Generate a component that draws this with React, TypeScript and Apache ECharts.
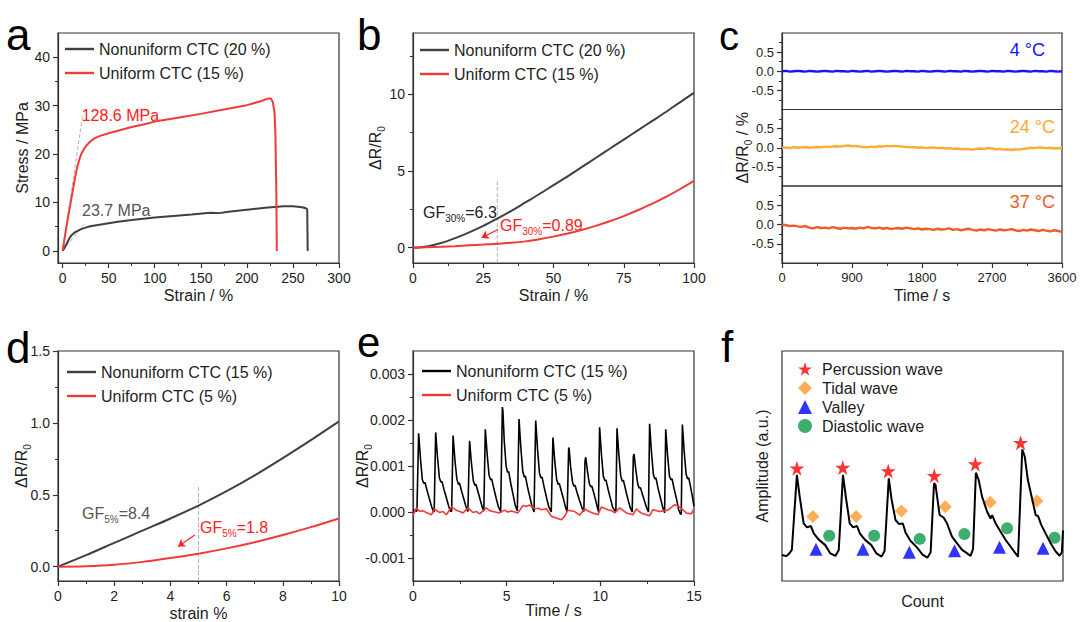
import React, { useEffect, useRef } from 'react';
import * as echarts from 'echarts';

const FONT = '"Liberation Sans", Arial, Helvetica, sans-serif';
const AXIS = '#333333';
const TXT = '#1e1e1e';
const GRAY = '#404040';
const RED = '#f03a3a';
const RED_TXT = '#ff2020';
const DASH = '#b4b4b4';

// ---------- (a) stress vs strain ----------
const aNonuniform: [number, number][] = [
  [0, 0], [2, 0.6], [4, 1.3], [6, 2.1], [8, 2.8], [10, 3.3], [13, 3.8], [16, 4.1], [20, 4.5], [25, 4.8],
  [30, 5.1], [40, 5.4], [50, 5.7], [60, 6.0], [75, 6.4], [90, 6.7], [100, 6.9], [120, 7.2], [140, 7.5],
  [160, 7.9], [170, 7.8], [180, 8.1], [200, 8.5], [220, 8.9], [240, 9.2], [250, 9.2], [260, 9.0],
  [264, 8.8], [265.5, 8.6], [266, 0],
];
const aUniform: [number, number][] = [
  [0, 0], [2, 2.4], [4, 4.8], [6, 7.1], [8, 9.2], [10, 11.3], [12, 13.5], [14, 15.6], [16, 17.4], [18, 18.8],
  [20, 19.9], [23, 21.0], [26, 21.8], [30, 22.6], [35, 23.3], [40, 23.7], [50, 24.3], [60, 24.8], [75, 25.6],
  [90, 26.2], [100, 26.7], [125, 27.5], [150, 28.3], [175, 29.2], [200, 30.1], [215, 30.9], [222, 31.4],
  [226, 31.5], [228, 30.8], [230, 28.8], [231, 24.0], [232, 12.0], [232.5, 0],
];
const aModulusUniform: [number, number][] = [[0, 0], [22, 28.3]];
const aModulusNonuniform: [number, number][] = [[0, 0], [24, 5.7]];

// ---------- (b) ΔR/R0 vs strain ----------
const bStrain = [0, 5, 10, 15, 20, 25, 30, 35, 40, 45, 50, 55, 60, 65, 70, 75, 80, 85, 90, 95, 100];
const bNonuniform = [0, 0.08, 0.3, 0.62, 1.0, 1.42, 1.9, 2.4, 2.95, 3.5, 4.08, 4.65, 5.25, 5.85, 6.45, 7.05, 7.65, 8.25, 8.85, 9.48, 10.1];
const bUniform = [0, 0.03, 0.06, 0.1, 0.15, 0.2, 0.26, 0.32, 0.41, 0.55, 0.72, 0.92, 1.15, 1.42, 1.72, 2.06, 2.44, 2.85, 3.31, 3.81, 4.35];
const bMarker: [number, number][] = [[30, -1], [30, 4.4]];

// ---------- (c) stability at temperatures (sampled every 50 s) ----------
const cStep = 50;
const c4C = [
  0.00, 0.01, -0.01, 0.00, 0.01, 0.00, -0.01, 0.01, 0.00, -0.01,
  0.00, 0.01, 0.00, -0.01, 0.01, 0.00, 0.00, -0.01, 0.01, 0.00,
  -0.01, 0.00, 0.01, -0.01, 0.00, 0.01, 0.00, -0.01, 0.00, 0.01,
  0.00, -0.01, 0.01, 0.00, 0.00, -0.01, 0.01, 0.00, -0.01, 0.00,
  0.01, 0.00, -0.01, 0.01, 0.00, 0.00, -0.01, 0.01, 0.00, -0.01,
  0.00, 0.01, 0.00, -0.01, 0.01, 0.00, 0.00, -0.01, 0.01, 0.00,
  -0.01, 0.00, 0.01, 0.00, -0.01, 0.01, 0.00, 0.00, -0.01, 0.01,
  0.00, -0.01, 0.00,
];
const c24C = [
  0.00, 0.01, -0.01, 0.02, 0.00, 0.01, 0.02, 0.00, 0.01, 0.02,
  0.01, 0.03, 0.02, 0.03, 0.04, 0.03, 0.05, 0.06, 0.04, 0.05,
  0.03, 0.02, 0.01, 0.03, 0.02, 0.04, 0.03, 0.05, 0.04, 0.05,
  0.04, 0.03, 0.02, 0.01, 0.02, 0.00, 0.01, -0.01, 0.00, 0.01,
  -0.01, 0.00, -0.02, -0.01, -0.03, -0.02, -0.04, -0.03, -0.04, -0.05,
  -0.03, -0.02, -0.03, -0.01, -0.02, -0.04, -0.03, -0.05, -0.04, -0.06,
  -0.04, -0.05, -0.03, -0.02, 0.00, -0.01, 0.01, 0.00, -0.01, 0.00,
  -0.02, -0.01, -0.02,
];
const c37C = [
  0.00, -0.02, -0.04, -0.03, -0.05, -0.06, -0.04, -0.08, -0.10, -0.07,
  -0.09, -0.08, -0.10, -0.07, -0.09, -0.11, -0.08, -0.10, -0.09, -0.11,
  -0.08, -0.10, -0.06, -0.09, -0.10, -0.08, -0.11, -0.09, -0.12, -0.10,
  -0.09, -0.11, -0.08, -0.10, -0.12, -0.10, -0.13, -0.11, -0.12, -0.14,
  -0.11, -0.13, -0.12, -0.10, -0.14, -0.12, -0.15, -0.13, -0.11, -0.14,
  -0.16, -0.13, -0.15, -0.12, -0.14, -0.16, -0.13, -0.15, -0.14, -0.12,
  -0.15, -0.17, -0.14, -0.16, -0.13, -0.15, -0.17, -0.14, -0.16, -0.18,
  -0.15, -0.17, -0.19,
];

// ---------- (d) small strain ----------
const dStrain = [0, 1, 2, 3, 4, 5, 6, 7, 8, 9, 10];
const dNonuniform = [0, 0.08, 0.165, 0.25, 0.335, 0.425, 0.525, 0.635, 0.755, 0.88, 1.01];
const dUniform = [0, 0.003, 0.013, 0.033, 0.06, 0.09, 0.127, 0.17, 0.22, 0.275, 0.335];
const dMarker: [number, number][] = [[5, -0.1], [5, 0.57]];

// ---------- (e) pulse signals ----------
const eNonuniform: [number, number][] = [
  [0, 0.05e-3], [0.12, 0.02e-3], [0.21, 0.02e-3],
  [0.30, 1.71e-3], [0.40, 1.15e-3], [0.50, 0.70e-3], [0.58, 0.62e-3], [0.64, 0.64e-3], [0.75, 0.47e-3], [0.88, 0.28e-3], [1.00, 0.11e-3], [1.08, 0.02e-3],
  [1.13, 0.00], [1.21, 1.73e-3], [1.31, 1.18e-3], [1.41, 0.74e-3], [1.49, 0.65e-3], [1.55, 0.66e-3], [1.66, 0.48e-3], [1.79, 0.30e-3], [1.91, 0.12e-3], [1.99, 0.02e-3],
  [2.06, 0.01e-3], [2.14, 1.66e-3], [2.24, 1.12e-3], [2.34, 0.72e-3], [2.42, 0.60e-3], [2.48, 0.63e-3], [2.59, 0.46e-3], [2.72, 0.27e-3], [2.84, 0.10e-3], [2.93, 0.01e-3],
  [2.95, 0.00], [3.02, 1.55e-3], [3.12, 1.06e-3], [3.22, 0.68e-3], [3.30, 0.58e-3], [3.36, 0.60e-3], [3.47, 0.44e-3], [3.59, 0.26e-3], [3.70, 0.10e-3], [3.78, 0.02e-3],
  [3.79, 0.01e-3], [3.86, 1.80e-3], [3.96, 1.25e-3], [4.06, 0.80e-3], [4.14, 0.70e-3], [4.20, 0.72e-3], [4.31, 0.52e-3], [4.44, 0.30e-3], [4.56, 0.11e-3], [4.68, 0.01e-3],
  [4.70, 0.00], [4.77, 2.28e-3], [4.80, 2.20e-3], [4.87, 1.55e-3], [4.97, 1.00e-3], [5.05, 0.86e-3], [5.11, 0.88e-3], [5.22, 0.62e-3], [5.35, 0.36e-3], [5.46, 0.14e-3], [5.57, 0.02e-3],
  [5.59, 0.01e-3], [5.66, 2.02e-3], [5.76, 1.38e-3], [5.86, 0.88e-3], [5.94, 0.76e-3], [6.00, 0.78e-3], [6.11, 0.55e-3], [6.24, 0.32e-3], [6.36, 0.12e-3], [6.46, 0.00],
  [6.48, 0.00], [6.55, 1.99e-3], [6.65, 1.35e-3], [6.75, 0.85e-3], [6.83, 0.74e-3], [6.89, 0.76e-3], [7.00, 0.54e-3], [7.13, 0.31e-3], [7.25, 0.11e-3], [7.38, 0.00],
  [7.40, 0.00], [7.47, 1.62e-3], [7.57, 1.10e-3], [7.67, 0.70e-3], [7.75, 0.60e-3], [7.81, 0.62e-3], [7.92, 0.45e-3], [8.04, 0.27e-3], [8.14, 0.10e-3], [8.23, 0.01e-3],
  [8.25, 0.01e-3], [8.31, 1.40e-3], [8.34, 1.36e-3], [8.41, 1.00e-3], [8.51, 0.66e-3], [8.59, 0.56e-3], [8.65, 0.58e-3], [8.76, 0.42e-3], [8.89, 0.25e-3], [9.02, 0.09e-3], [9.12, 0.01e-3],
  [9.14, 0.00], [9.18, 1.10e-3], [9.22, 1.19e-3], [9.31, 0.90e-3], [9.41, 0.62e-3], [9.49, 0.55e-3], [9.55, 0.56e-3], [9.66, 0.40e-3], [9.77, 0.22e-3], [9.86, 0.07e-3], [9.90, 0.01e-3],
  [9.91, 0.00], [9.96, 1.84e-3], [10.06, 1.25e-3], [10.16, 0.78e-3], [10.24, 0.68e-3], [10.30, 0.70e-3], [10.41, 0.50e-3], [10.54, 0.29e-3], [10.66, 0.10e-3], [10.80, 0.01e-3],
  [10.83, 0.00], [10.89, 1.82e-3], [10.99, 1.24e-3], [11.09, 0.78e-3], [11.17, 0.67e-3], [11.23, 0.69e-3], [11.34, 0.50e-3], [11.47, 0.28e-3], [11.59, 0.10e-3], [11.70, 0.00],
  [11.72, 0.00], [11.76, 1.20e-3], [11.80, 1.26e-3], [11.90, 0.90e-3], [12.00, 0.60e-3], [12.08, 0.52e-3], [12.14, 0.53e-3], [12.25, 0.38e-3], [12.38, 0.21e-3], [12.49, 0.07e-3], [12.57, 0.00],
  [12.58, 0.00], [12.63, 1.92e-3], [12.73, 1.30e-3], [12.83, 0.82e-3], [12.91, 0.72e-3], [12.97, 0.74e-3], [13.08, 0.52e-3], [13.21, 0.30e-3], [13.33, 0.10e-3], [13.42, 0.00],
  [13.43, -0.02e-3], [13.49, 1.80e-3], [13.59, 1.23e-3], [13.69, 0.78e-3], [13.77, 0.70e-3], [13.83, 0.72e-3], [13.94, 0.50e-3], [14.07, 0.28e-3], [14.18, 0.05e-3], [14.28, -0.05e-3],
  [14.32, -0.04e-3], [14.38, 1.90e-3], [14.48, 1.30e-3], [14.58, 0.82e-3], [14.66, 0.72e-3], [14.72, 0.74e-3], [14.83, 0.52e-3], [14.93, 0.30e-3], [15.0, 0.12e-3],
];
const eUniform: [number, number][] = [
  [0, -0.08e-3], [0.18, 0.09e-3], [0.36, 0.01e-3], [0.52, 0.03e-3], [0.71, -0.01e-3], [0.98, -0.06e-3], [1.16, 0.07e-3],
  [1.30, 0.02e-3], [1.42, -0.01e-3], [1.60, 0.01e-3], [1.78, -0.06e-3], [2.05, 0.11e-3], [2.31, 0.04e-3], [2.50, 0.01e-3],
  [2.67, -0.02e-3], [2.94, 0.09e-3], [3.20, -0.01e-3], [3.40, 0.01e-3], [3.56, -0.04e-3], [3.91, 0.09e-3], [4.10, 0.03e-3],
  [4.27, 0.01e-3], [4.63, -0.02e-3], [4.89, 0.04e-3], [5.05, 0.00], [5.25, 0.02e-3], [5.60, -0.02e-3], [5.87, 0.14e-3],
  [6.05, 0.12e-3], [6.23, 0.15e-3], [6.49, 0.07e-3], [6.70, 0.08e-3], [6.85, 0.05e-3], [7.12, 0.07e-3], [7.38, -0.09e-3],
  [7.65, -0.13e-3], [7.92, -0.17e-3], [8.10, -0.09e-3], [8.27, 0.04e-3], [8.63, 0.01e-3], [8.90, -0.07e-3], [9.16, 0.07e-3],
  [9.35, 0.02e-3], [9.52, -0.01e-3], [9.88, -0.06e-3], [10.05, 0.11e-3], [10.41, 0.05e-3], [10.60, 0.03e-3], [10.77, -0.02e-3],
  [11.03, 0.09e-3], [11.39, -0.02e-3], [11.74, -0.06e-3], [11.92, 0.07e-3], [12.10, 0.00], [12.28, -0.04e-3], [12.63, -0.08e-3],
  [12.81, 0.05e-3], [13.17, 0.01e-3], [13.40, 0.03e-3], [13.61, 0.04e-3], [13.97, 0.16e-3], [14.23, 0.11e-3], [14.59, -0.02e-3],
  [14.86, -0.04e-3], [15.0, 0.07e-3],
];

// ---------- (f) pulse waveform features (arbitrary units, 0–100) ----------
const fWave: [number, number][] = [
  [0, 11.3], [1.5, 10.8], [2.4, 11.7], [3.5, 13.5], [5.3, 46.1], [6.3, 36.7], [7.7, 25.1], [8.9, 23.3], [10.3, 23.9],
  [11.3, 20.7], [13.0, 18.1], [15.4, 15.6], [17.2, 12.0], [19.0, 10.9], [20.2, 13.5], [21.7, 46.1],
  [22.7, 36.7], [24.1, 25.1], [25.3, 23.3], [26.7, 23.9], [27.7, 20.7], [29.4, 18.1], [31.8, 15.6], [33.6, 12.0],
  [35.4, 10.6], [36.5, 13.0], [38.0, 44.6],
  [39.0, 35.5], [40.4, 26.5], [41.6, 24.8], [43.0, 25.0], [44.0, 21.0], [45.7, 17.5], [48.1, 14.5], [50.0, 11.5],
  [51.8, 10.2], [52.9, 12.5], [54.1, 42.5],
  [54.6, 42.0], [56.1, 28.7], [57.5, 27.6], [58.7, 25.1], [60.5, 19.3], [62.3, 16.4], [64.1, 13.5], [65.9, 12.0],
  [67.1, 10.9], [68.0, 14.0], [69.0, 47.1],
  [70.0, 43.9], [71.2, 36.7], [73.0, 30.1], [74.2, 27.2], [74.8, 28.6], [76.0, 25.1], [77.8, 21.4], [79.6, 17.8],
  [81.4, 14.9], [83.1, 12.0], [84.0, 10.6], [85.5, 57.2],
  [86.4, 54.0], [87.5, 43.9], [89.1, 35.2], [90.3, 28.6], [91.1, 28.3], [92.3, 24.3], [93.8, 20.7], [95.6, 16.4],
  [97.4, 12.8], [98.8, 11.0], [99.6, 12.5], [100, 22.0],
];
const fPercussion: [number, number][] = [[5.3, 49.0], [21.6, 49.3], [37.8, 47.8], [54.2, 45.8], [68.8, 50.9], [84.9, 60.1]];
const fTidal: [number, number][] = [[11.0, 28.0], [26.4, 28.0], [42.5, 30.4], [58.1, 32.3], [74.1, 34.2], [90.7, 34.8]];
const fValley: [number, number][] = [[12.1, 13.8], [28.8, 13.8], [45.3, 12.5], [61.4, 13.2], [77.4, 14.7], [92.9, 14.2]];
const fDiastolic: [number, number][] = [[16.8, 19.7], [32.8, 19.7], [49.0, 18.3], [64.9, 20.4], [80.1, 22.9], [97.0, 18.8]];

const LEGEND_TEXT: Record<string, string> = {
  aN: 'Nonuniform CTC (20 %)', aU: 'Uniform CTC (15 %)',
  bN: 'Nonuniform CTC (20 %)', bU: 'Uniform CTC (15 %)',
  dN: 'Nonuniform CTC (15 %)', dU: 'Uniform CTC (5 %)',
  eN: 'Nonuniform CTC (15 %)', eU: 'Uniform CTC (5 %)',
};

const STAR = 'path://M50 0L61.2 34.5L97.6 34.5L68.2 55.9L79.4 90.5L50 69.1L20.6 90.5L31.8 55.9L2.4 34.5L38.8 34.5Z';

const SUBRICH = {
  m: { fontSize: 16, fontFamily: FONT, color: TXT, lineHeight: 22, verticalAlign: 'middle' },
  s: { fontSize: 10, fontFamily: FONT, color: TXT, lineHeight: 22, verticalAlign: 'bottom' },
};

function axis(o: any) {
  const a: any = {
    type: 'value',
    gridIndex: o.grid,
    min: o.min,
    max: o.max,
    axisLine: { show: o.line !== false, onZero: false, lineStyle: { color: AXIS, width: 1.2 } },
    axisTick: { show: o.ticks !== undefined, inside: false, length: 5, customValues: o.ticks, lineStyle: { color: AXIS, width: 1.2 } },
    minorTick: { show: o.ticks !== undefined, splitNumber: 2, length: 3, lineStyle: { color: AXIS, width: 1 } },
    axisLabel: {
      show: o.ticks !== undefined && o.noLabel !== true,
      customValues: o.ticks,
      formatter: o.fmt,
      color: TXT,
      fontSize: o.fs || 14,
      fontFamily: FONT,
      margin: 8,
    },
    splitLine: { show: false },
    minorSplitLine: { show: false },
  };
  if (o.interval !== undefined) a.interval = o.interval;
  if (o.split !== undefined) a.splitNumber = o.split;
  if (o.name) {
    a.name = o.name;
    a.nameLocation = 'middle';
    a.nameGap = o.gap;
    a.nameMoveOverlap = false;
    a.nameTextStyle = { fontSize: 16, fontFamily: FONT, color: TXT, rich: SUBRICH };
  }
  if (o.show === false) a.show = false;
  return a;
}

const f0 = (v: number) => v.toFixed(0);
const f1 = (v: number) => v.toFixed(1);
const f3 = (v: number) => v.toFixed(3);

function lineSeries(name: string, data: any[], x: number, color: string, width = 2, extra: any = {}) {
  return {
    type: 'line', name, data, xAxisIndex: x, yAxisIndex: x, showSymbol: false, symbol: 'none',
    lineStyle: { color, width }, itemStyle: { color }, animation: false, silent: true, ...extra,
  };
}

function dashSeries(data: any[], x: number) {
  return {
    type: 'line', data, xAxisIndex: x, yAxisIndex: x, showSymbol: false, symbol: 'none', z: 1,
    lineStyle: { color: DASH, width: 1, type: 'dashed' }, animation: false, silent: true,
  };
}

function arrow(from: [number, number], to: [number, number]) {
  return {
    silent: true, animation: false, symbol: ['none', 'arrow'], symbolSize: 7,
    lineStyle: { color: RED_TXT, width: 1.2, type: 'solid' }, label: { show: false },
    emphasis: { disabled: true },
    data: [[{ coord: from }, { coord: to }]],
  };
}

function legend(names: string[], left: number, top: number) {
  return {
    data: names.map((n) => ({ name: n, icon: 'rect' })),
    left, top, orient: 'vertical', padding: 0, itemWidth: 29, itemHeight: 2.4, itemGap: 8,
    selectedMode: false, formatter: (n: string) => LEGEND_TEXT[n] || n,
    textStyle: { fontSize: 16, fontFamily: FONT, color: TXT, lineHeight: 16 },
  };
}

function txt(x: number, y: number, text: string, size: number, fill: string, align = 'left', lh?: number) {
  const style: any = {
    text, fill, font: `${size}px ${FONT}`, fontSize: size, fontFamily: FONT,
    align, textAlign: align, verticalAlign: 'middle', textVerticalAlign: 'middle',
  };
  if (lh) style.lineHeight = lh;
  return { type: 'text', x, y, silent: true, style };
}

function gfText(x: number, y: number, sub: string, val: string, fill: string) {
  const tok = (fs: number, va: string) => ({ fontSize: fs, fontFamily: FONT, fill, color: fill, lineHeight: 22, verticalAlign: va });
  return {
    type: 'text', x, y, silent: true,
    style: {
      text: `{m|GF}{s|${sub}}{m|${val}}`,
      rich: { m: tok(16, 'middle'), s: tok(10, 'bottom') },
      fill, align: 'left', textAlign: 'left', verticalAlign: 'middle', textVerticalAlign: 'middle',
    },
  };
}

function buildOption() {
  const gridDefs = [
    { left: 58, top: 33, width: 281, height: 230 },
    { left: 413, top: 33, width: 281, height: 230 },
    { left: 782, top: 33, width: 280, height: 76.5 },
    { left: 782, top: 109.5, width: 280, height: 76.5 },
    { left: 782, top: 186, width: 280, height: 77 },
    { left: 58, top: 351, width: 281, height: 230 },
    { left: 413, top: 351, width: 281, height: 230 },
    { left: 782, top: 351, width: 281, height: 230 },
  ];
  const grid = gridDefs.map((g) => ({
    ...g, show: true, borderColor: AXIS, borderWidth: 1.2, backgroundColor: 'transparent',
    containLabel: false, outerBoundsMode: 'none',
  }));

  const cTicksY = [-0.5, 0, 0.5];
  const xAxis = [
    axis({ grid: 0, min: -5, max: 300, split: 6, ticks: [0, 50, 100, 150, 200, 250, 300], fmt: f0, name: 'Strain / %', gap: 24 }),
    axis({ grid: 1, min: 0, max: 100, interval: 25, ticks: [0, 25, 50, 75, 100], fmt: f0, name: 'Strain / %', gap: 24 }),
    axis({ grid: 2, min: 0, max: 3600, interval: 900, show: false }),
    axis({ grid: 3, min: 0, max: 3600, interval: 900, show: false }),
    axis({ grid: 4, min: 0, max: 3600, interval: 900, ticks: [0, 900, 1800, 2700, 3600], fmt: f0, fs: 13, name: 'Time / s', gap: 24 }),
    axis({ grid: 5, min: 0, max: 10, interval: 2, ticks: [0, 2, 4, 6, 8, 10], fmt: f0, name: 'strain %', gap: 24 }),
    axis({ grid: 6, min: 0, max: 15, interval: 5, ticks: [0, 5, 10, 15], fmt: f0, name: 'Time / s', gap: 21 }),
    axis({ grid: 7, min: 0, max: 100, line: false, name: 'Count', gap: 12 }),
  ];
  const yAxis = [
    axis({ grid: 0, min: -2.5, max: 45, split: 5, ticks: [0, 10, 20, 30, 40], fmt: f0, name: 'Stress / MPa', gap: 28 }),
    axis({ grid: 1, min: -1, max: 14, split: 3, ticks: [0, 5, 10], fmt: f0, name: '{m|ΔR/R}{s|0}', gap: 27 }),
    axis({ grid: 2, min: -1, max: 1, interval: 0.5, ticks: cTicksY, fmt: f1, fs: 13 }),
    axis({ grid: 3, min: -1, max: 1, interval: 0.5, ticks: cTicksY, fmt: f1, fs: 13, name: '{m|ΔR/R}{s|0}{m| / %}', gap: 29 }),
    axis({ grid: 4, min: -1, max: 1, interval: 0.5, ticks: cTicksY, fmt: f1, fs: 13 }),
    axis({ grid: 5, min: -0.1, max: 1.5, split: 3, ticks: [0, 0.5, 1.0, 1.5], fmt: f1, name: '{m|ΔR/R}{s|0}', gap: 26 }),
    axis({ grid: 6, min: -0.0015, max: 0.0035, split: 5, ticks: [-0.001, 0, 0.001, 0.002, 0.003], fmt: f3, name: '{m|ΔR/R}{s|0}', gap: 40 }),
    axis({ grid: 7, min: 0, max: 100, line: false, name: 'Amplitude (a.u.)', gap: 12 }),
  ];

  const series: any[] = [
    // a
    dashSeries(aModulusUniform, 0),
    dashSeries(aModulusNonuniform, 0),
    lineSeries('aN', aNonuniform, 0, GRAY, 2),
    lineSeries('aU', aUniform, 0, RED, 2),
    // b
    dashSeries(bMarker, 1),
    lineSeries('bN', bStrain.map((x, i) => [x, bNonuniform[i]]), 1, GRAY, 2, { smooth: 0.3 }),
    lineSeries('bU', bStrain.map((x, i) => [x, bUniform[i]]), 1, RED, 2, {
      smooth: 0.3, markLine: arrow([30.3, 1.19], [24.4, 0.65]),
    }),
    // c
    lineSeries('c4', c4C.map((v, i) => [i * cStep, v]), 2, '#1414ff', 2.4),
    lineSeries('c24', c24C.map((v, i) => [i * cStep, v]), 3, '#ffaa33', 2.4),
    lineSeries('c37', c37C.map((v, i) => [i * cStep, v]), 4, '#f25a28', 2.4),
    // d
    dashSeries(dMarker, 5),
    lineSeries('dN', dStrain.map((x, i) => [x, dNonuniform[i]]), 5, GRAY, 2, { smooth: 0.3 }),
    lineSeries('dU', dStrain.map((x, i) => [x, dUniform[i]]), 5, RED, 2, {
      smooth: 0.3, markLine: arrow([4.87, 0.22], [4.27, 0.14]),
    }),
    // e
    lineSeries('eN', eNonuniform, 6, '#000000', 1.6),
    lineSeries('eU', eUniform, 6, RED, 1.6),
    // f
    lineSeries('fW', fWave, 7, '#000000', 2),
    { type: 'scatter', name: 'Percussion wave', data: fPercussion, xAxisIndex: 7, yAxisIndex: 7, symbol: STAR, symbolSize: 15, itemStyle: { color: '#ff0000' }, silent: true, animation: false },
    { type: 'scatter', name: 'Tidal wave', data: fTidal, xAxisIndex: 7, yAxisIndex: 7, symbol: 'diamond', symbolSize: 13, itemStyle: { color: '#ff9a2e' }, silent: true, animation: false },
    { type: 'scatter', name: 'Valley', data: fValley, xAxisIndex: 7, yAxisIndex: 7, symbol: 'triangle', symbolSize: 13, itemStyle: { color: '#0000ff' }, silent: true, animation: false },
    { type: 'scatter', name: 'Diastolic wave', data: fDiastolic, xAxisIndex: 7, yAxisIndex: 7, symbol: 'circle', symbolSize: 12, itemStyle: { color: '#0c9a4a' }, silent: true, animation: false },
  ];

  const legends: any[] = [
    legend(['aN', 'aU'], 65, 41),
    legend(['bN', 'bU'], 420, 42),
    legend(['dN', 'dU'], 67, 364),
    legend(['eN', 'eU'], 422, 363),
    {
      data: ['Percussion wave', 'Tidal wave', 'Valley', 'Diastolic wave'], left: 798, top: 361, orient: 'vertical',
      padding: 0, itemWidth: 14, itemHeight: 14, itemGap: 3, selectedMode: false,
      textStyle: { fontSize: 16, fontFamily: FONT, color: TXT, padding: [0, 0, 0, 5], lineHeight: 16 },
    },
  ];

  const graphic: any[] = [
    txt(6, 34.8, 'a', 44, '#000', 'left', 30),
    txt(357, 34.8, 'b', 44, '#000', 'left', 30),
    txt(719, 36.1, 'c', 40, '#000', 'left', 28),
    txt(6, 347.8, 'd', 44, '#000', 'left', 30),
    txt(357, 342.4, 'e', 42, '#000', 'left', 28),
    txt(721, 346.8, 'f', 44, '#000', 'left', 30),
    txt(81.7, 115, '128.6 MPa', 16, RED_TXT),
    txt(82, 210, '23.7 MPa', 16, '#555555'),
    gfText(423, 212, '30%', '=6.3', '#222222'),
    gfText(500, 225, '30%', '=0.89', RED_TXT),
    gfText(82, 513, '5%', '=8.4', '#555555'),
    gfText(200, 527, '5%', '=1.8', RED_TXT),
    txt(1045, 50, '4 °C', 18, '#1414ff', 'right'),
    txt(1055, 127, '24 °C', 18, '#ffaa33', 'right'),
    txt(1055, 202, '37 °C', 18, '#f25a28', 'right'),
  ];

  return {
    animation: false,
    backgroundColor: '#ffffff',
    textStyle: { fontFamily: FONT },
    grid, xAxis, yAxis, series, legend: legends, graphic,
  };
}

export default function App() {
  const ref = useRef<HTMLDivElement>(null);
  useEffect(() => {
    if (!ref.current) return;
    const chart = echarts.init(ref.current, null, { renderer: 'svg' });
    chart.setOption(buildOption() as any);
    return () => chart.dispose();
  }, []);
  return (
    <div
      ref={ref}
      style={{ position: 'fixed', left: 0, top: 0, width: 1080, height: 622, background: '#ffffff' }}
    />
  );
}
